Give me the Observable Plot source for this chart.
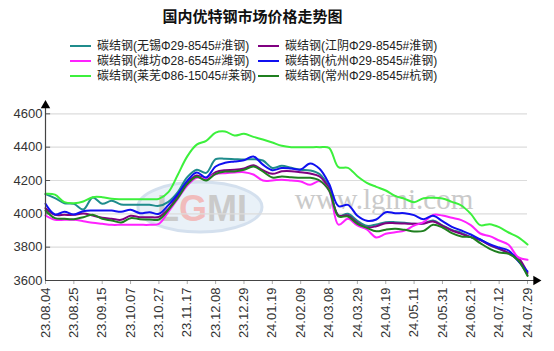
<!DOCTYPE html>
<html><head><meta charset="utf-8">
<script src="https://cdn.jsdelivr.net/npm/d3@7"></script>
<script src="https://cdn.jsdelivr.net/npm/@observablehq/plot@0.6"></script>
<style>
body{margin:0;background:#fff;width:554px;height:351px;overflow:hidden;font-family:"Liberation Sans",Arial,"Noto Sans CJK SC",sans-serif;position:relative;}
#title{position:absolute;left:0;top:6px;width:505px;text-align:center;font-weight:bold;font-size:15px;line-height:20px;color:#111;font-family:"Noto Sans CJK SC",sans-serif;}
#legend{position:absolute;left:0;top:0;width:554px;height:88px;}
.li{position:absolute;height:15px;line-height:15px;font-size:12px;color:#222;white-space:nowrap;font-family:"Liberation Sans","Noto Sans CJK SC",sans-serif;}
.sw{position:absolute;top:6px;width:21px;height:2px;}
.lt{position:absolute;left:27px;top:0;}
#spacer{height:88px;}
</style></head>
<body>
<div id="title">国内优特钢市场价格走势图</div>
<div id="legend"></div>
<div id="spacer"></div>
<div id="chart"></div>
<script>
const xLabels = ["23.08.04","23.08.25","23.09.15","23.10.07","23.10.27","23.11.17","23.12.08","23.12.29","24.01.19","24.02.09","24.03.08","24.03.29","24.04.19","24.05.11","24.05.31","24.06.21","24.07.12","24.07.29"];
const seriesNames = ["碳结钢(无锡Φ29-8545#淮钢)","碳结钢(江阴Φ29-8545#淮钢)","碳结钢(潍坊Φ28-6545#潍钢)","碳结钢(杭州Φ29-8545#淮钢)","碳结钢(莱芜Φ86-15045#莱钢)","碳结钢(常州Φ29-8545#杭钢)"];
const seriesColors = ["#1f8c8c","#800080","#ff22ff","#1010f0","#3cf03c","#1f7f1f"];
// weekly readings (3 per labelled interval)
const wuxi = [4118,4094,4064,4060,4026,4098,4060,4078,4056,4054,4054,4054,4048,4072,4130,4220,4265,4246,4328,4330,4328,4326,4328,4320,4275,4288,4276,4265,4260,4238,4160,3990,4000,3958,3928,3936,3950,3950,3946,3940,3942,3960,3930,3904,3886,3860,3846,3812,3788,3764,3720,3632];
const jiangyin = [4034,3994,3994,3994,4002,3990,3976,3970,3964,3988,3980,3980,3982,4030,4108,4186,4230,4210,4250,4262,4264,4272,4292,4262,4240,4255,4256,4250,4242,4224,4150,3990,3990,3946,3918,3926,3944,3944,3942,3940,3942,3954,3928,3900,3880,3860,3842,3812,3792,3765,3738,3645];
const weifang = [3990,3964,3964,3964,3956,3946,3940,3934,3934,3934,3934,3934,3940,4012,4090,4170,4216,4214,4238,4244,4248,4250,4236,4200,4200,4205,4200,4194,4174,4196,4140,3935,3970,3930,3906,3858,3880,3890,3900,3930,3950,3994,3990,3976,3962,3932,3882,3866,3840,3814,3740,3724];
const hangzhou = [4060,3996,4012,3996,4016,4020,4020,4020,4012,4024,4004,4010,4000,4052,4118,4198,4248,4218,4284,4306,4314,4322,4344,4295,4262,4275,4272,4266,4302,4270,4180,4046,4054,3988,3958,3966,4010,4004,4004,3992,3968,3988,3956,3922,3900,3876,3846,3818,3798,3780,3718,3655];
const laiwu = [4120,4115,4070,4064,4074,4100,4100,4090,4088,4088,4088,4088,4090,4130,4235,4345,4415,4438,4487,4494,4470,4480,4462,4446,4428,4408,4400,4400,4400,4400,4396,4280,4276,4226,4186,4162,4140,4108,4090,4070,4094,4096,4092,4072,4050,4000,3932,3938,3920,3888,3860,3816];
const changzhou = [4020,3974,3970,3968,3980,3994,3970,3960,3948,3974,3968,3966,3966,4024,4095,4178,4222,4200,4240,4254,4254,4264,4284,4254,4218,4224,4220,4216,4216,4200,4140,3985,3984,3940,3916,3895,3905,3910,3904,3894,3898,3934,3918,3884,3864,3860,3824,3790,3768,3760,3722,3628];
const yTicks = [3600,3800,4000,4200,4400,4600];

const allSeries = [wuxi, jiangyin, weifang, hangzhou, laiwu, changzhou];
const data = [];
allSeries.forEach((vals, s) => vals.forEach((v, k) => data.push({pos: k / 3, value: v, series: seriesNames[s]})));

// legend
const lg = document.getElementById("legend");
seriesNames.forEach((n, i) => {
  const col = i % 2, row = Math.floor(i / 2);
  const d = document.createElement("div");
  d.className = "li";
  d.style.left = (col ? 258 : 70) + "px";
  d.style.top = (39 + row * 15) + "px";
  d.innerHTML = `<div class="sw" style="background:${seriesColors[i]}"></div><div class="lt">${n}</div>`;
  lg.appendChild(d);
});

const plot = Plot.plot({
  width: 554, height: 263,
  marginLeft: 45, marginRight: 27, marginTop: 17, marginBottom: 71,
  style: {fontFamily: "Liberation Sans, Arial, sans-serif", fontSize: "13px", color: "#333", background: "#fff"},
  x: {domain: [0, 17], axis: null, label: null},
  y: {domain: [3600, 4650], axis: null, label: null},
  color: {domain: seriesNames, range: seriesColors},
  marks: [
    Plot.gridY(yTicks.slice(1), {stroke: "#dcdcdc", strokeOpacity: 1, strokeWidth: 1.2}),
    Plot.axisY({ticks: yTicks, tickFormat: d => String(d), label: null, tickSize: 0, tickPadding: 3, fontSize: 13, fill: "#333"}),
    Plot.ruleY(yTicks.slice(1), {x1: 0, x2: 0.18, stroke: "#555"}),
    Plot.axisX({ticks: d3.range(xLabels.length), tickFormat: i => xLabels[i], label: null, tickRotate: -90, tickSize: 4, tickPadding: 3, stroke: "#aaa", fill: "#333", fontSize: 13}),
    Plot.lineY(data, {x: "pos", y: "value", stroke: "series", z: "series", strokeWidth: 2, curve: "catmull-rom"}),
    Plot.ruleX([0], {y1: 3600, y2: 4650, stroke: "#444", strokeWidth: 1.2}),
    Plot.ruleY([3600], {x1: 0, x2: 17.3, stroke: "#444", strokeWidth: 1.2}),
    Plot.dot([0], {x: 0, y: 4650, symbol: "triangle", r: 3.5, fill: "#000", stroke: null}),
    Plot.dot([0], {x: 17.3, y: 3600, symbol: "triangle", rotate: 90, r: 3.5, fill: "#000", stroke: null})
  ]
});
document.getElementById("chart").appendChild(plot);

// watermark (decoration, behind the lines)
const svg = d3.select(plot);
const wm = svg.insert("g", ":first-child").attr("opacity", 0.6);
svg.insert("rect", ":first-child").attr("width", 554).attr("height", 263).attr("fill", "#fff");
wm.append("ellipse").attr("cx", 200).attr("cy", 119).attr("rx", 62).attr("ry", 25)
  .attr("fill", "#dce8f4").attr("stroke", "#b8cde4").attr("stroke-width", 3);
const lt = wm.append("text").attr("x", 202).attr("y", 133).attr("text-anchor", "middle")
  .attr("font-family", "Liberation Sans, Arial").attr("font-weight", "bold").attr("font-size", 36).attr("fill", "#a8a8a8");
lt.append("tspan").text("L");
lt.append("tspan").attr("fill", "#e89090").text("G");
lt.append("tspan").text("MI");
wm.append("text").attr("x", 384).attr("y", 121).attr("text-anchor", "middle")
  .attr("font-family", "Liberation Serif, Times New Roman, serif").attr("font-size", 29).attr("fill", "#a8a8a8").text("www.lgmi.com");
</script>
</body></html>
